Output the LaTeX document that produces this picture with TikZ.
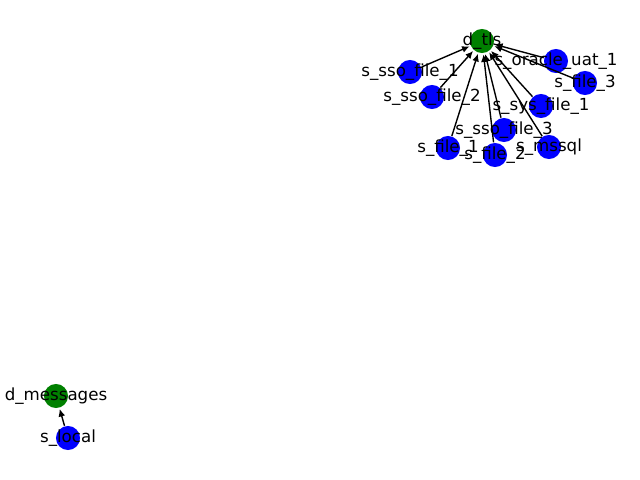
\documentclass[tikz,border=0pt]{standalone}
\usepackage{fontspec}
\setmainfont{DejaVu Sans}
\usetikzlibrary{arrows.meta}
\usetikzlibrary{positioning}

\begin{document}
\begin{tikzpicture}[x=0.72pt, y=-0.72pt, -{Latex[length=5.5pt,width=5pt]}, shorten >= 0.5pt, line width=1pt]
\tikzstyle{srcnode} = [circle, draw=none, fill=blue, minimum size=17.3pt, inner sep=0pt]
\tikzstyle{dstnode} = [srcnode, fill=green!50!black]
\tikzstyle{nodelabel} = [font=\fontsize{12}{14}\selectfont, inner sep=0pt, text=black]

\useasboundingbox (0,0) rectangle (640,480);

\node[dstnode] (tls) at (482,41) {};
\node[srcnode] (sso1) at (410,72) {};
\node[srcnode] (sso2) at (432,97) {};
\node[srcnode] (oracle) at (556,61) {};
\node[srcnode] (file3) at (585,83) {};
\node[srcnode] (sys1) at (541,106) {};
\node[srcnode] (sso3) at (504,130) {};
\node[srcnode] (file1) at (448,148) {};
\node[srcnode] (file2) at (495,155) {};
\node[srcnode] (mssql) at (549,147) {};
\node[dstnode] (msg) at (56,396) {};
\node[srcnode] (local) at (68,438) {};

\path (sso1) edge (tls)
	(sso2) edge (tls)
	(oracle) edge (tls)
	(file3) edge (tls)
	(sys1) edge (tls)
	(sso3) edge (tls)
	(file1) edge (tls)
	(file2) edge (tls)
	(mssql) edge (tls)
	(local) edge (msg)
	;

\node[nodelabel] (tls-l) at (tls) {d\_tls};
\node[nodelabel] (sso1-l) at (sso1) {s\_sso\_file\_1};
\node[nodelabel] (sso2-l) at (sso2) {s\_sso\_file\_2};
\node[nodelabel] (oracle-l) at (oracle) {s\_oracle\_uat\_1};
\node[nodelabel] (file3-l) at (file3) {s\_file\_3};
\node[nodelabel] (sys1-l) at (sys1) {s\_sys\_file\_1};
\node[nodelabel] (sso3-l) at (sso3) {s\_sso\_file\_3};
\node[nodelabel] (file1-l) at (file1) {s\_file\_1};
\node[nodelabel] (file2-l) at (file2) {s\_file\_2};
\node[nodelabel] (mssql-l) at (mssql) {s\_mssql};
\node[nodelabel] (msg-l) at (msg) {d\_messages};
\node[nodelabel] (local-l) at (local) {s\_local};

\end{tikzpicture}
\end{document}
